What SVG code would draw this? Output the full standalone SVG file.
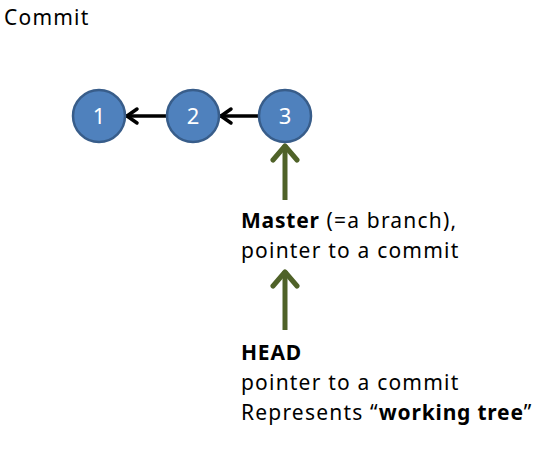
<svg xmlns="http://www.w3.org/2000/svg" width="551" height="450" viewBox="0 0 551 450">
<style>
text{font-family:"Noto Sans","Open Sans","DejaVu Sans",sans-serif;font-size:21px;letter-spacing:1.2px;fill:#000}
.b{font-weight:bold;letter-spacing:0.8px}
.c{fill:#4F81BD;stroke:#385D8A;stroke-width:2.5}
.n{fill:#fff;text-anchor:middle;letter-spacing:0;font-size:22px}
.k{stroke:#000;stroke-width:3.5;fill:none}
.g{stroke:#4F6228;stroke-width:5;fill:none}
</style>
<defs>
<marker id="ak" markerUnits="userSpaceOnUse" viewBox="0 0 20 20" refX="17" refY="10" markerWidth="20" markerHeight="20" orient="auto">
<path d="M6 3 L16 10 L6 17" fill="none" stroke="#000" stroke-width="3.5" stroke-linecap="round" stroke-linejoin="round"/>
</marker>
<marker id="ag" markerUnits="userSpaceOnUse" viewBox="0 0 30 30" refX="27" refY="15" markerWidth="30" markerHeight="30" orient="auto">
<path d="M12 3 L26 15 L12 27" fill="none" stroke="#4F6228" stroke-width="5" stroke-linecap="round" stroke-linejoin="round"/>
</marker>
</defs>
<text x="4" y="25">Commit</text>
<g id="connectors">
<line class="k" x1="167" y1="116" x2="126" y2="116" marker-end="url(#ak)"/>
<line class="k" x1="259" y1="116" x2="220" y2="116" marker-end="url(#ak)"/>
<line class="g" x1="285" y1="200" x2="285" y2="145" marker-end="url(#ag)"/>
<line class="g" x1="285" y1="330" x2="285" y2="271" marker-end="url(#ag)"/>
</g>
<g id="c1"><circle class="c" cx="99" cy="116" r="26"/><text class="n" x="99" y="124">1</text></g>
<g id="c2"><circle class="c" cx="193" cy="116" r="26"/><text class="n" x="193" y="124">2</text></g>
<g id="c3"><circle class="c" cx="285" cy="116" r="26"/><text class="n" x="285" y="124">3</text></g>
<g id="master">
<text x="241" y="228"><tspan class="b">Master</tspan> (=a branch),</text>
<text x="241" y="258">pointer to a commit</text>
</g>
<g id="head">
<text x="241" y="360" class="b">HEAD</text>
<text x="241" y="390">pointer to a commit</text>
<text x="241" y="420">Represents “<tspan class="b">working tree</tspan>”</text>
</g>
</svg>
